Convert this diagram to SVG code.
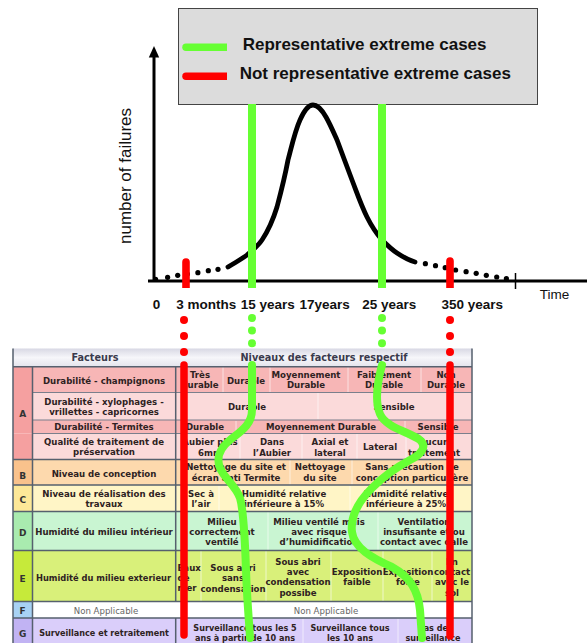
<svg xmlns="http://www.w3.org/2000/svg" width="587" height="643" viewBox="0 0 587 643">
<defs>
<linearGradient id="hdr" x1="0" y1="0" x2="0" y2="1"><stop offset="0" stop-color="#d8d8e4"/><stop offset="0.5" stop-color="#f6f6fa"/><stop offset="1" stop-color="#e4e4ec"/></linearGradient>
<style>
.lg{font-family:"Liberation Sans",Arial,sans-serif;font-weight:bold;font-size:17px;fill:#111}
.ax{font-family:"Liberation Sans",Arial,sans-serif;font-weight:bold;font-size:13.5px;fill:#111}
.t{font-family:"DejaVu Sans",Verdana,sans-serif;font-weight:bold;font-size:8.6px;fill:#2e2222;text-anchor:middle}
.s{font-size:8.1px}
.st{text-anchor:start}
.h{font-family:"DejaVu Sans",Verdana,sans-serif;font-weight:bold;font-size:9.7px;fill:#3a3a4c;text-anchor:middle}
.l{font-family:"DejaVu Sans",Verdana,sans-serif;font-weight:bold;font-size:9px;fill:#333;text-anchor:middle}
.na{font-family:"DejaVu Sans",Verdana,sans-serif;font-size:8.6px;fill:#666;text-anchor:middle}
.grid{stroke:#56606e;stroke-width:1.5;fill:none}
.sub{stroke:#7a7f8c;stroke-width:1.2;fill:none}
.dv{stroke:#ffffff;stroke-opacity:0.6;stroke-width:1}
.red{stroke:#ff0000;stroke-width:7.5;stroke-linecap:round;fill:none}
.grn{stroke:#66ff33;stroke-width:8;stroke-linecap:round;fill:none}
.dot{fill:#000}
</style>
</defs>
<rect width="587" height="643" fill="#fff"/>

<g id="legend">
<rect x="178.5" y="8.5" width="359" height="96" fill="#dcdcdc" stroke="#444" stroke-width="1"/>
<path d="M186,43.5 H227 V51 H186 a3.75,3.75 0 0 1 0,-7.5 Z" fill="#66ff33"/>
<path d="M186,72.5 H227 V80 H186 a3.75,3.75 0 0 1 0,-7.5 Z" fill="#ff0000"/>
<text class="lg" x="242.7" y="50">Representative extreme cases</text>
<text class="lg" x="239.7" y="79">Not representative extreme cases</text>
</g>

<g id="axes">
<line x1="154" y1="56" x2="154" y2="282" stroke="#000" stroke-width="3"/>
<polygon points="154,46 148.8,57.5 159.2,57.5" fill="#000"/>
<line x1="148" y1="281" x2="587" y2="281" stroke="#000" stroke-width="3"/>
<line x1="515.5" y1="273" x2="515.5" y2="289" stroke="#000" stroke-width="1.5"/>
<text font-family="Liberation Sans, Arial, sans-serif" font-size="17" fill="#111" text-anchor="middle" transform="translate(130.6,176) rotate(-90)">number of failures</text>
<text font-family="Liberation Sans, Arial, sans-serif" font-size="13.5" fill="#111" x="539.7" y="298.5">Time</text>
</g>

<g id="curve">
<path d="M228,267 C236,262 242,259 247,255 C253,250 258,246 262,240 C268,231 273,220 277,207 C281,192 285,176 288,160 C292,145 295,131 300,120 C304,111 308,105 313,105 C318,105 322,110 326,117 C330,124 333,131 337,140 C342,153 347,167 352,180 C357,193 361,205 367,217 C371,225 376,233 382,240 C387,245 391,249 397,253 C403,257 408,260 415,262" fill="none" stroke="#000" stroke-width="4.8" stroke-linecap="round"/>
<g class="dot">
<circle cx="155.6" cy="279.3" r="2.6"/><circle cx="167.6" cy="277.3" r="2.6"/><circle cx="177.7" cy="275.3" r="2.6"/><circle cx="187.4" cy="274" r="2.6"/><circle cx="197.9" cy="272.7" r="2.6"/><circle cx="208.3" cy="270.7" r="2.6"/><circle cx="218" cy="269.3" r="2.6"/>
<circle cx="425.4" cy="263.7" r="2.6"/><circle cx="435.5" cy="265.7" r="2.6"/><circle cx="445.2" cy="267.7" r="2.6"/><circle cx="455.6" cy="270" r="2.6"/><circle cx="466.1" cy="271.7" r="2.6"/><circle cx="476.2" cy="273.3" r="2.6"/><circle cx="486.3" cy="275.3" r="2.6"/><circle cx="496.7" cy="277" r="2.6"/><circle cx="506.4" cy="278.7" r="2.6"/>
</g>
</g>

<g id="markers">
<line x1="252" y1="104" x2="252" y2="288" stroke="#66ff33" stroke-width="8"/>
<line x1="382" y1="104" x2="382" y2="288" stroke="#66ff33" stroke-width="8"/>
<path d="M182.2,288 V262 a3.8,3.8 0 0 1 7.6,0 V288 Z" fill="#ff0000"/>
<path d="M446.2,288 V261 a3.8,3.8 0 0 1 7.6,0 V288 Z" fill="#ff0000"/>
</g>

<g id="axis-labels" class="ax">
<text x="156.6" y="308.5" text-anchor="middle">0</text>
<text x="176.2" y="308.5">3 months</text>
<text x="240.8" y="308.5">15 years</text>
<text x="299.5" y="308.5">17years</text>
<text x="362.2" y="308.5">25 years</text>
<text x="441.4" y="308.5">350 years</text>
</g>

<g id="table">
<rect x="13" y="348.5" width="459" height="18.2" fill="url(#hdr)"/>
<text class="h" x="95" y="361">Facteurs</text>
<text class="h" x="324" y="361">Niveaux des facteurs respectif</text>

<g id="row-A">
<rect x="13" y="366.7" width="19.5" height="66.8" fill="#f5a0a0"/>
<rect x="32.5" y="366.7" width="439.5" height="25.8" fill="#f7b6b6"/>
<rect x="32.5" y="392.5" width="439.5" height="27.5" fill="#fbdada"/>
<rect x="32.5" y="420" width="439.5" height="13.5" fill="#f7b6b6"/>
<rect x="13" y="433.5" width="19.5" height="26" fill="#f5a0a0"/>
<rect x="32.5" y="433.5" width="439.5" height="26" fill="#fbdada"/>
<text class="l" x="22.7" y="416.5">A</text>
<text class="t" x="104" y="383.5">Durabilité - champignons</text>
<text class="t" x="104" y="405">Durabilité - xylophages -</text>
<text class="t" x="104" y="415">vrillettes - capricornes</text>
<text class="t" x="104" y="429.5">Durabilité - Termites</text>
<text class="t" x="104" y="445">Qualité de traitement de</text>
<text class="t" x="104" y="455">préservation</text>
<g class="dv"><line x1="223" y1="367" x2="223" y2="392"/><line x1="270" y1="367" x2="270" y2="392"/><line x1="348" y1="367" x2="348" y2="392"/><line x1="421" y1="367" x2="421" y2="392"/><line x1="318" y1="393" x2="318" y2="419"/><line x1="236" y1="421" x2="236" y2="433"/><line x1="405" y1="421" x2="405" y2="433"/><line x1="240" y1="434" x2="240" y2="459"/><line x1="302" y1="434" x2="302" y2="459"/><line x1="357" y1="434" x2="357" y2="459"/><line x1="406" y1="434" x2="406" y2="459"/></g>
<text class="t" x="200" y="378">Très</text><text class="t" x="200" y="388">durable</text>
<text class="t" x="246" y="383.5">Durable</text>
<text class="t" x="306" y="378">Moyennement</text><text class="t" x="306" y="388">Durable</text>
<text class="t" x="384" y="378">Faiblement</text><text class="t" x="384" y="388">Durable</text>
<text class="t" x="446" y="378">Non</text><text class="t" x="446" y="388">Durable</text>
<text class="t" x="247" y="409.5">Durable</text>
<text class="t" x="394" y="409.5">Sensible</text>
<text class="t" x="205" y="429.5">Durable</text>
<text class="t" x="321" y="429.5">Moyennement Durable</text>
<text class="t" x="438" y="429.5">Sensible</text>
<text class="t" x="210" y="445">Aubier plus</text><text class="t" x="210" y="455.5">6mm</text>
<text class="t" x="272" y="445">Dans</text><text class="t" x="272" y="455.5">l’Aubier</text>
<text class="t" x="330" y="445">Axial et</text><text class="t" x="330" y="455.5">lateral</text>
<text class="t" x="380" y="450">Lateral</text>
<text class="t" x="434" y="445">Aucun</text><text class="t" x="434" y="455.5">traitement</text>
</g>

<g id="row-B">
<rect x="13" y="459.5" width="19.5" height="25.5" fill="#f9c28c"/>
<rect x="32.5" y="459.5" width="439.5" height="25.5" fill="#fdd9ad"/>
<text class="l" x="22.7" y="478.5">B</text>
<text class="t" x="104" y="476.5">Niveau de conception</text>
<g class="dv"><line x1="290" y1="460" x2="290" y2="485"/><line x1="352" y1="460" x2="352" y2="485"/></g>
<text class="t" x="236" y="470">Nettoyage du site et</text><text class="t" x="236" y="480.5">écran anti Termite</text>
<text class="t" x="320" y="470">Nettoyage</text><text class="t" x="320" y="480.5">du site</text>
<text class="t" x="412" y="470">Sans précaution de</text><text class="t" x="412" y="480.5">conception particulière</text>
</g>

<g id="row-C">
<rect x="13" y="485" width="19.5" height="26.5" fill="#fde898"/>
<rect x="32.5" y="485" width="439.5" height="26.5" fill="#fff5c6"/>
<text class="l" x="22.7" y="502.5">C</text>
<text class="t" x="104" y="496.5">Niveau de réalisation des</text>
<text class="t" x="104" y="506.5">travaux</text>
<g class="dv"><line x1="219" y1="486" x2="219" y2="511"/><line x1="350" y1="486" x2="350" y2="511"/></g>
<text class="t" x="201" y="496.5">Sec à</text><text class="t" x="201" y="506.5">l’air</text>
<text class="t" x="284" y="496.5">Humidité relative</text><text class="t" x="284" y="506.5">inférieure à 15%</text>
<text class="t" x="406" y="496.5">Humidité relative</text><text class="t" x="406" y="506.5">inférieure à 25%</text>
</g>

<g id="row-D">
<rect x="13" y="511.5" width="19.5" height="39" fill="#a9ebaf"/>
<rect x="32.5" y="511.5" width="439.5" height="39" fill="#c9f5d2"/>
<text class="l" x="22.7" y="535.5">D</text>
<text class="t" x="104" y="534.5">Humidité du milieu intérieur</text>
<g class="dv"><line x1="268" y1="512" x2="268" y2="550"/><line x1="378" y1="512" x2="378" y2="550"/></g>
<text class="t" x="222" y="525">Milieu</text><text class="t" x="222" y="535">correctement</text><text class="t" x="222" y="545">ventilé</text>
<text class="t" x="319" y="525">Milieu ventilé mais</text><text class="t" x="319" y="535">avec risque</text><text class="t" x="319" y="545">d’humidification</text>
<text class="t" x="424" y="525">Ventilation</text><text class="t" x="424" y="535">insufisante et/ou</text><text class="t" x="424" y="545">contact avec dalle</text>
</g>

<g id="row-E">
<rect x="13" y="550.5" width="19.5" height="51" fill="#c6ea3a"/>
<rect x="32.5" y="550.5" width="439.5" height="51" fill="#d9f07a"/>
<text class="l" x="22.7" y="581.5">E</text>
<text class="t" x="103.5" y="581" style="font-size:8.3px">Humidité du milieu exterieur</text>
<g class="dv"><line x1="201" y1="551" x2="201" y2="601"/><line x1="266" y1="551" x2="266" y2="601"/><line x1="331" y1="551" x2="331" y2="601"/><line x1="383" y1="551" x2="383" y2="601"/><line x1="432" y1="551" x2="432" y2="601"/></g>
<text class="t st" x="177.5" y="570.5">Eaux</text><text class="t st" x="177.5" y="581">de</text><text class="t st" x="177.5" y="591">mer</text>
<text class="t" x="233" y="570.5">Sous abri</text><text class="t" x="233" y="581">sans</text><text class="t" x="233" y="591.5">condensation</text>
<text class="t" x="298" y="564.5">Sous abri</text><text class="t" x="298" y="575">avec</text><text class="t" x="298" y="585">condensation</text><text class="t" x="298" y="596">possibe</text>
<text class="t" x="357" y="575">Exposition</text><text class="t" x="357" y="585">faible</text>
<text class="t" x="408" y="575">Exposition</text><text class="t" x="408" y="585">forte</text>
<text class="t" x="452" y="564.5">En</text><text class="t" x="452" y="575">contact</text><text class="t" x="452" y="585">avec le</text><text class="t" x="452" y="596">sol</text>
</g>

<g id="row-F">
<rect x="13" y="601.5" width="19.5" height="16.5" fill="#a8d2f4"/>
<rect x="32.5" y="601.5" width="439.5" height="16.5" fill="#ffffff"/>
<text class="l" x="22.7" y="613.5">F</text>
<text class="na" x="106" y="613.5">Non Applicable</text>
<text class="na" x="326" y="613.5">Non Applicable</text>
</g>

<g id="row-G">
<rect x="13" y="618" width="19.5" height="26" fill="#c1b3f3"/>
<rect x="32.5" y="618" width="439.5" height="26" fill="#dacefa"/>
<text class="l" x="22.7" y="636.5">G</text>
<text class="t s" x="104" y="635.5">Surveillance et retraitement</text>
<g class="dv"><line x1="303" y1="619" x2="303" y2="643"/><line x1="398" y1="619" x2="398" y2="643"/></g>
<text class="t s" x="245" y="631">Surveillance tous les 5</text><text class="t s" x="245" y="641">ans à partir de 10 ans</text>
<text class="t s" x="350" y="631">Surveillance tous</text><text class="t s" x="350" y="641">les 10 ans</text>
<text class="t s" x="433" y="631">Pas de</text><text class="t s" x="433" y="641">surveillance</text>
</g>

<g id="grid">
<path class="sub" d="M32.5,392.5 H472 M32.5,420 H472 M32.5,433.5 H472"/>
<path class="grid" d="M13,366.7 H472 M13,459.5 H472 M13,485 H472 M13,511.5 H472 M13,550.5 H472 M13,601.5 H472 M13,618 H472"/>
<path class="grid" d="M13,348.5 V643 M32.5,366.7 V643 M175.7,366.7 V601.5 M175.7,618 V643 M472,348.5 V643"/>
</g>
</g>

<g id="connectors">
<g fill="#ff0000"><circle cx="184" cy="320" r="4"/><circle cx="184" cy="336" r="4"/><circle cx="184" cy="352" r="4"/><circle cx="450" cy="320" r="4"/><circle cx="450" cy="336" r="4"/><circle cx="450" cy="352" r="4"/></g>
<g fill="#66ff33"><circle cx="252" cy="318" r="4"/><circle cx="252" cy="330.5" r="4"/><circle cx="252" cy="343.3" r="4"/><circle cx="382" cy="318" r="4"/><circle cx="382" cy="330.5" r="4"/><circle cx="382" cy="343.3" r="4"/></g>
<path class="red" d="M184,365 V635"/>
<path class="red" d="M450,365 V636"/>
<path class="grn" d="M252,365 V410 C252,425 240,432 230,440 C220,448 216,458 220,468 C224,478 236,486 240,498 C244,512 245,540 246,570 C247,600 249,620 250,638"/>
<path class="grn" d="M382,365 C378,380 374,400 380,414 C386,428 410,432 420,440 C428,447 420,455 410,460 C395,468 382,478 372,488 C360,500 350,515 352,532 C354,548 372,558 392,567 C410,577 418,590 420,610 L422,638"/>
</g>
</svg>
